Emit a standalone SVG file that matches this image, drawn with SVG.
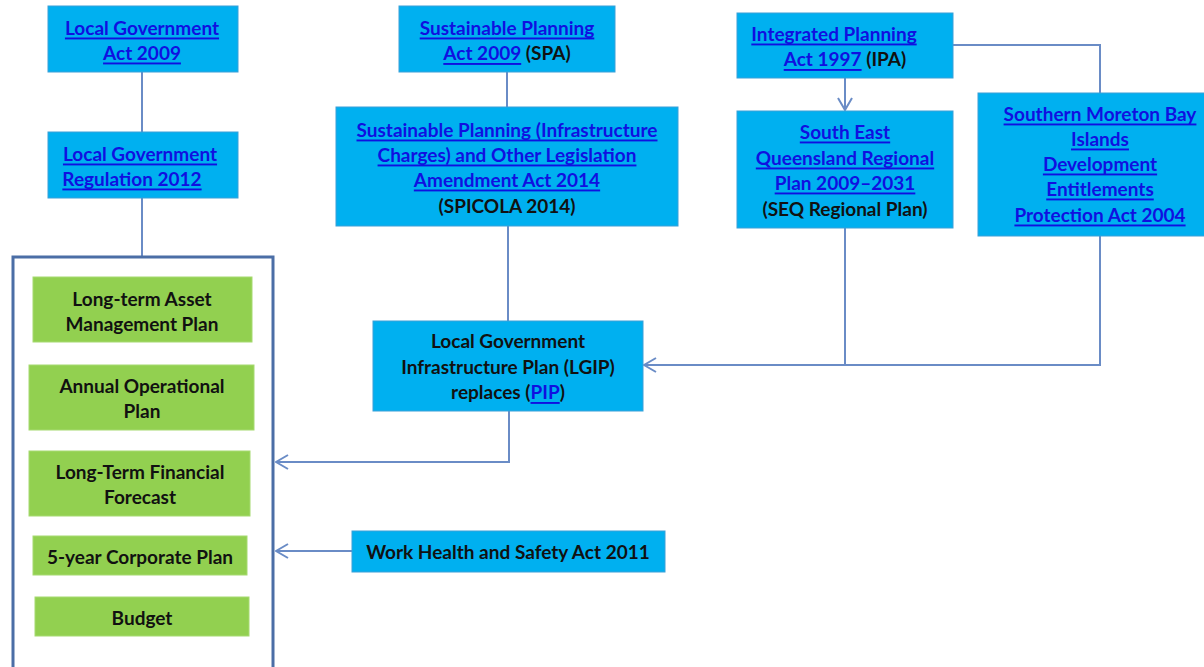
<svg xmlns="http://www.w3.org/2000/svg" width="1204" height="667" viewBox="0 0 1204 667">
  <style>
    .box { fill: #00b0f0; stroke: #3aa0d8; stroke-width: 1; }
    .plan { fill: #92d050; stroke: #a6da70; stroke-width: 1; }
    .t { font-family: Lato, "Liberation Sans", sans-serif; font-weight: 700; font-size: 19px; fill: #111111; text-anchor: middle; dominant-baseline: central; }
    .lnk { fill: #1010e0; text-decoration: underline; }
    .wire { fill: none; stroke: #6a8cc6; stroke-width: 2; }
    .frame { fill: #ffffff; stroke: #4b6ea6; stroke-width: 3; }
  </style>
  <defs>
    <marker id="chev" markerWidth="14" markerHeight="16" refX="13" refY="8" orient="auto" markerUnits="userSpaceOnUse">
      <path d="M1,1 L13,8 L1,15" fill="none" stroke="#6a8cc6" stroke-width="2"/>
    </marker>
  </defs>

  <!-- connectors -->
  <g id="connectors">
    <path class="wire" d="M142,72 V132"/>
    <path class="wire" d="M142,198 V257"/>
    <path class="wire" d="M507,72 V107"/>
    <path class="wire" d="M508,226 V321"/>
    <path class="wire" d="M509,411 V462 H276" marker-end="url(#chev)"/>
    <path class="wire" d="M352,551 H276" marker-end="url(#chev)"/>
    <path class="wire" d="M845,78 V110" marker-end="url(#chev)"/>
    <path class="wire" d="M953,45 H1100 V93"/>
    <path class="wire" d="M845,228 V365"/>
    <path class="wire" d="M1100,236 V365 H644" marker-end="url(#chev)"/>
  </g>

  <!-- council planning documents -->
  <g id="council-plans">
    <rect class="frame" x="13" y="257" width="260" height="412"/>
    <g id="asset-plan">
      <rect class="plan" x="33" y="277" width="219" height="65"/>
      <text class="t" x="142" y="298">Long-term Asset</text>
      <text class="t" x="142" y="323">Management Plan</text>
    </g>
    <g id="operational-plan">
      <rect class="plan" x="29" y="365" width="225" height="65"/>
      <text class="t" x="142" y="385">Annual Operational</text>
      <text class="t" x="142" y="410">Plan</text>
    </g>
    <g id="financial-forecast">
      <rect class="plan" x="29" y="451" width="221" height="65"/>
      <text class="t" x="140" y="471">Long-Term Financial</text>
      <text class="t" x="140" y="496">Forecast</text>
    </g>
    <g id="corporate-plan">
      <rect class="plan" x="33" y="536" width="214" height="39"/>
      <text class="t" x="140" y="556">5-year Corporate Plan</text>
    </g>
    <g id="budget">
      <rect class="plan" x="35" y="597" width="214" height="39"/>
      <text class="t" x="142" y="617">Budget</text>
    </g>
  </g>

  <g id="lga-2009">
    <rect class="box" x="48" y="6" width="190" height="66"/>
    <text class="t lnk" x="142" y="27">Local Government</text>
    <text class="t lnk" x="142" y="52">Act 2009</text>
  </g>

  <g id="lg-regulation">
    <rect class="box" x="48" y="132" width="190" height="66"/>
    <text class="t lnk" x="140" y="153">Local Government</text>
    <text class="t lnk" x="132" y="178">Regulation 2012</text>
  </g>

  <g id="spa">
    <rect class="box" x="399" y="6" width="216" height="66"/>
    <text class="t lnk" x="507" y="27">Sustainable Planning</text>
    <text class="t" x="507" y="52"><tspan class="lnk">Act 2009</tspan> (SPA)</text>
  </g>

  <g id="spicola">
    <rect class="box" x="336" y="107" width="342" height="119"/>
    <text class="t lnk" x="507" y="129">Sustainable Planning (Infrastructure</text>
    <text class="t lnk" x="507" y="154">Charges) and Other Legislation</text>
    <text class="t lnk" x="507" y="179">Amendment Act 2014</text>
    <text class="t" x="507" y="205">(SPICOLA 2014)</text>
  </g>

  <g id="ipa">
    <rect class="box" x="737" y="13" width="216" height="65"/>
    <text class="t lnk" x="834" y="33">Integrated Planning</text>
    <text class="t" x="845" y="58"><tspan class="lnk">Act 1997</tspan> (IPA)</text>
  </g>

  <g id="seq-plan">
    <rect class="box" x="737" y="111" width="216" height="117"/>
    <text class="t lnk" x="845" y="131">South East</text>
    <text class="t lnk" x="845" y="157">Queensland Regional</text>
    <text class="t lnk" x="845" y="182">Plan 2009–2031</text>
    <text class="t" x="845" y="208">(SEQ Regional Plan)</text>
  </g>

  <g id="smbi">
    <rect class="box" x="978" y="93" width="230" height="143"/>
    <text class="t lnk" x="1100" y="113">Southern Moreton Bay</text>
    <text class="t lnk" x="1100" y="138">Islands</text>
    <text class="t lnk" x="1100" y="163">Development</text>
    <text class="t lnk" x="1100" y="188">Entitlements</text>
    <text class="t lnk" x="1100" y="214">Protection Act 2004</text>
  </g>

  <g id="lgip">
    <rect class="box" x="373" y="321" width="270" height="90"/>
    <text class="t" x="508" y="340">Local Government</text>
    <text class="t" x="508" y="366">Infrastructure Plan (LGIP)</text>
    <text class="t" x="508" y="391">replaces (<tspan class="lnk">PIP</tspan>)</text>
  </g>

  <g id="whs">
    <rect class="box" x="352" y="531" width="313" height="41"/>
    <text class="t" x="508" y="551">Work Health and Safety Act 2011</text>
  </g>
</svg>
